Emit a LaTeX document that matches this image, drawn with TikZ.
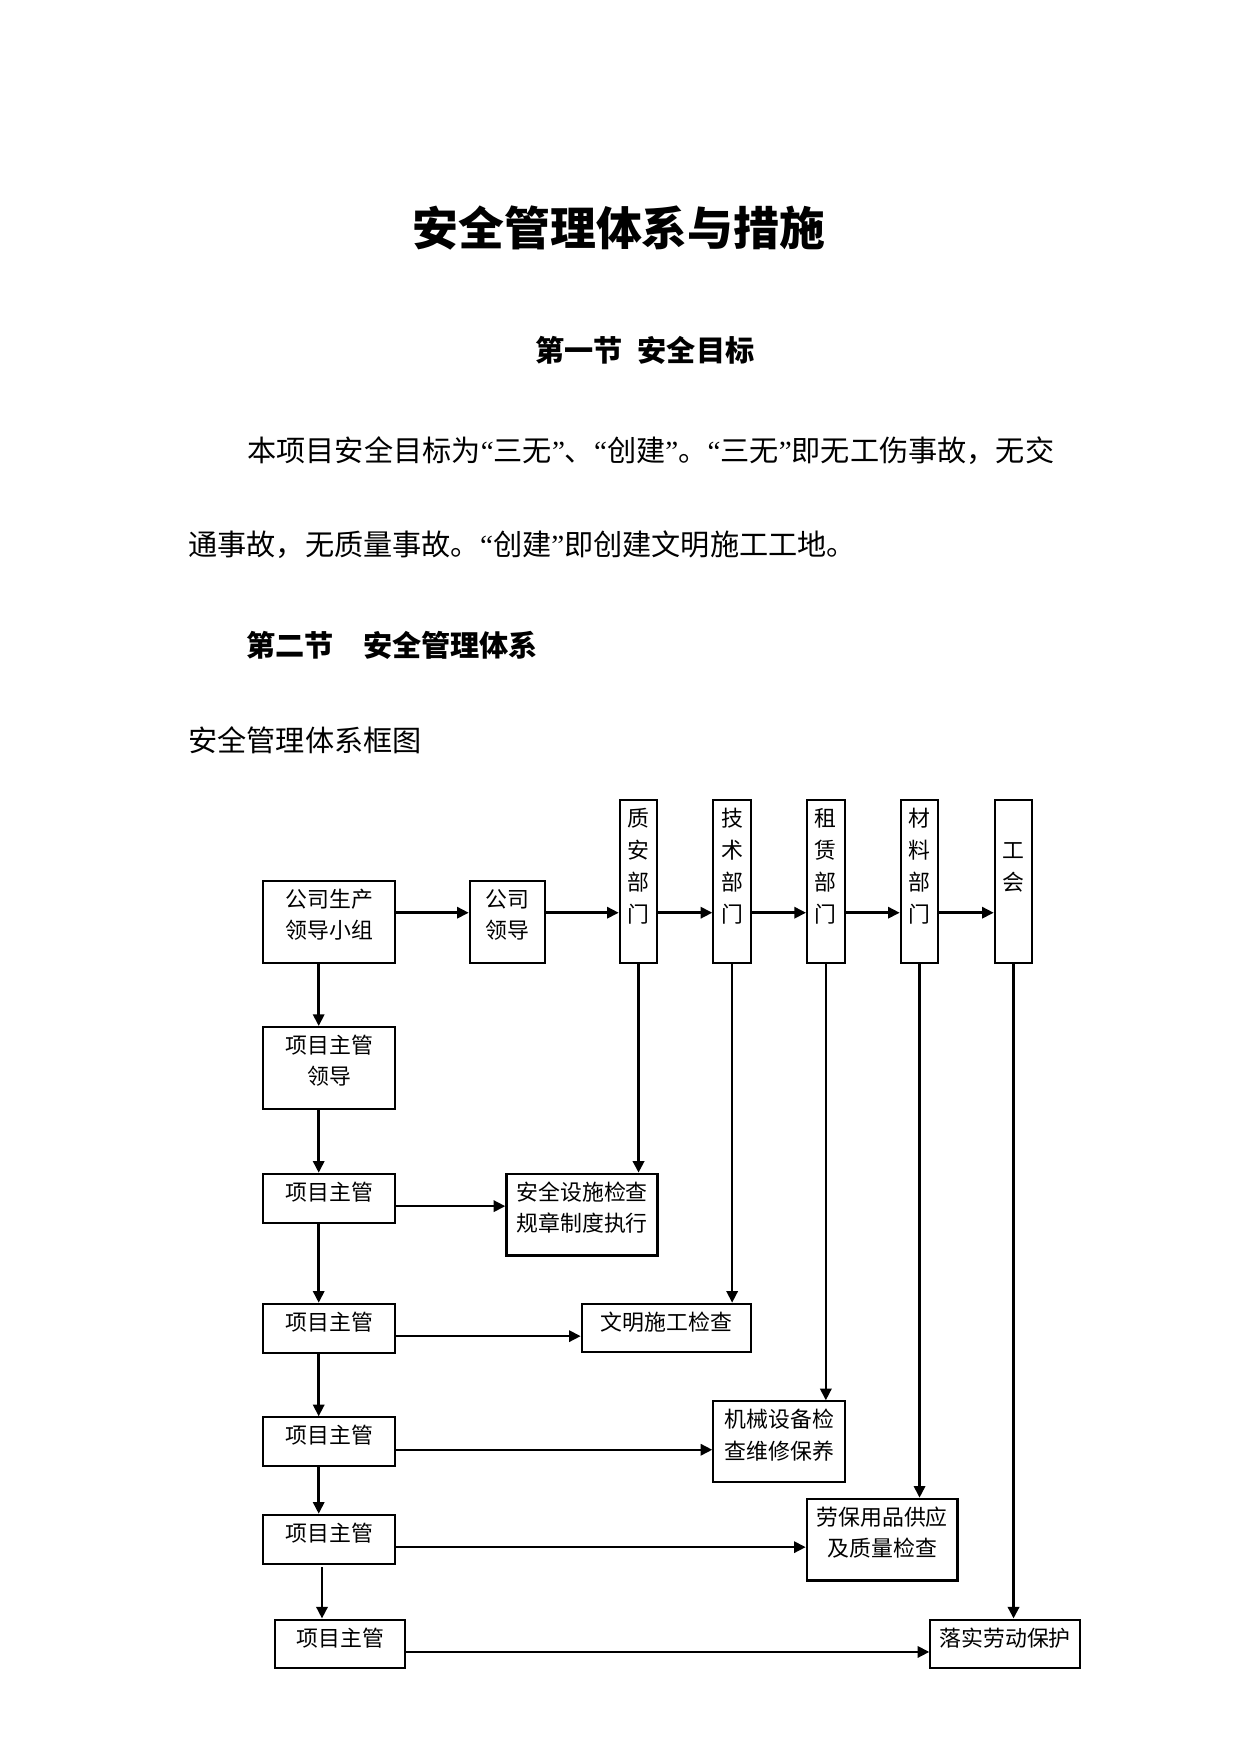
\documentclass[tikz,border=0pt]{standalone}
\usepackage{fontspec}
\setmainfont{Noto Sans CJK SC}
\newfontfamily\latinq{Liberation Serif}
\usetikzlibrary{arrows.meta}

% one pixel of the page
\newdimen\pxu \pxu=0.48bp
\newcommand{\quo}[1]{{\latinq “}#1{\latinq ”}}

\tikzset{
  box/.style={draw, line width=1bp, inner sep=0pt, anchor=north west, align=center,
    font=\fontsize{10.5bp}{15bp}\selectfont, text height=26.5\pxu},
  dept/.style={box, text width=37.6\pxu, text height=26.3\pxu, text depth=136.7\pxu,
    font=\fontsize{10.5bp}{15.5bp}\selectfont},
  arr/.style={line width=1.2bp, -{Triangle[length=5.6bp,width=5.4bp]}},
  body/.style={inner sep=0pt, font=\fontsize{14bp}{17bp}\selectfont},
  head/.style={body, font=\fontsize{14bp}{17bp}\selectfont\bfseries},
}

\begin{document}
\begin{tikzpicture}[x=0.48bp, y=-0.48bp]
  \useasboundingbox (0,0) rectangle (1241,1754);

  % headings and text
  \node[inner sep=0pt, anchor=base, font=\fontsize{22bp}{26bp}\selectfont\bfseries] (title) at (619,245) {安全管理体系与措施};
  \node[head, anchor=base] (sec1) at (645,361.6) {第一节\hspace{0.5em}安全目标};
  \node[body, anchor=base west] (par1) at (247,461.9) {本项目安全目标为\quo{三无}、\quo{创建}。\quo{三无}即无工伤事故，无交};
  \node[body, anchor=base west] (par2) at (188,555.3) {通事故，无质量事故。\quo{创建}即创建文明施工工地。};
  \node[head, anchor=base west] (sec2) at (246,656.1) {第二节\hspace{1em}安全管理体系};
  \node[body, anchor=base west] (cap) at (188,751.6) {安全管理体系框图};

  % top row
  \node[box, text width=132\pxu, text depth=55.2\pxu] (group) at (262.3,880) {公司生产\\领导小组};
  \node[box, text width=75.6\pxu, text depth=55.2\pxu] (lead) at (468.7,880) {公司\\领导};
  \foreach \n/\x/\t in {qa/618.7/质\\安\\部\\门, tech/712.3/技\\术\\部\\门,
      rent/806/租\\赁\\部\\门, mat/899.7/材\\料\\部\\门, union/993.7/\mbox{}\\工\\会}
    \node[dept] (\n) at (\x,798.7) {\t};

  % project column
  \node[box, text width=132\pxu, text depth=55.8\pxu] (leadp) at (262.3,1026) {项目主管\\领导};
  \foreach \n/\y in {r3/1172.7, r4/1302.7, r5/1416.3, r6/1513.7}
    \node[box, text width=132\pxu, text depth=22.3\pxu] (\n) at (262.3,\y) {项目主管};
  \node[box, text width=130.4\pxu, text depth=22.3\pxu] (r7) at (274,1618.5) {项目主管};

  % checks
  \node[box, line width=1.3bp, text width=151\pxu, text depth=54.8\pxu] (safe) at (505.3,1172.7) {安全设施检查\\规章制度执行};
  \node[box, text width=169.6\pxu, text depth=22.1\pxu] (civil) at (580.7,1302.7) {文明施工检查};
  \node[box, text width=132\pxu, text depth=54.5\pxu] (mach) at (712.3,1400.3) {机械设备检\\查维修保养};
  \node[box, line width=1.3bp, text width=150.3\pxu, text depth=54.8\pxu] (labor) at (805.7,1497.7) {劳保用品供应\\及质量检查};
  \node[box, text width=149.7\pxu, text depth=22.3\pxu] (prot) at (929.3,1618.5) {落实劳动保护};

  % arrows
  \coordinate (ty) at (0,912.7);
  \foreach \a/\b in {group/lead, lead/qa, qa/tech, tech/rent, rent/mat, mat/union}
    \draw[arr] (\a.east |- ty) -- (\b.west |- ty);

  \coordinate (colx) at (318.7,0);
  \foreach \a/\b in {group/leadp, leadp/r3, r3/r4, r4/r5, r5/r6}
    \draw[arr] (colx |- \a.south) -- (colx |- \b.north);
  \coordinate (r6x) at (322,1567.3);
  \draw[arr] (r6x) -- (r6x |- r7.north);

  \foreach \a/\b in {r3/safe, r4/civil, r5/mach, r6/labor, r7/prot} {
    \coordinate (s) at ([yshift=-8\pxu]\a.east);
    \draw[arr] (s) -- (s -| \b.west);
  }

  \foreach \a/\b/\w in {qa/safe/1.6bp, tech/civil/1.2bp, rent/mach/1.2bp, mat/labor/1.2bp, union/prot/1.4bp}
    \draw[arr, line width=\w] (\a.south) -- (\a.south |- \b.north);
\end{tikzpicture}
\end{document}
